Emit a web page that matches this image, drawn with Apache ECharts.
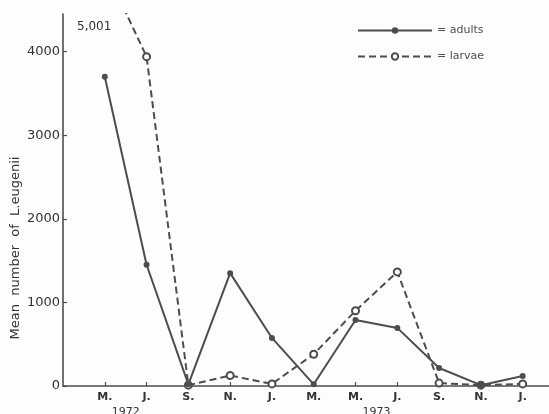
<!DOCTYPE html>
<html>
<head>
<meta charset="utf-8">
<script src="https://cdn.jsdelivr.net/npm/echarts@6/dist/echarts.min.js"></script>
<style>
html,body{margin:0;padding:0;background:#fdfdfd;}
#c{width:549px;height:414px;}
</style>
</head>
<body>
<div id="c"></div>
<script>
const months = ['M.', 'J.', 'S.', 'N.', 'J.', 'M.', 'M.', 'J.', 'S.', 'N.', 'J.'];
const years = ['1972', '1973'];
const yearPositions = [1.5, 7.5];
const adults = [3700, 1450, 20, 1350, 575, 20, 790, 695, 215, 10, 120];
const larvae = [5001, 3940, 10, 125, 25, 380, 900, 1365, 35, 10, 25];
const yTicks = [0, 1000, 2000, 3000, 4000];
const offScaleLabel = '5,001';

const ink = '#4d4d4d';
const font = 'DejaVu Sans';
const xIdx = months.map((m, i) => i + 1);

const chart = echarts.init(document.getElementById('c'), null, {renderer: 'canvas'});
chart.setOption({
  backgroundColor: '#fdfdfd',
  animation: false,
  grid: {left: 63, right: 0, top: 14, bottom: 28},
  legend: {
    orient: 'vertical',
    left: 352,
    top: 20,
    itemWidth: 74,
    itemHeight: 8,
    itemGap: 15,
    formatter: n => '= ' + n,
    textStyle: {color: ink, fontFamily: font, fontSize: 11},
    data: ['adults', 'larvae']
  },
  xAxis: {
    type: 'value',
    min: 0,
    max: 11.63,
    splitLine: {show: false},
    axisLine: {show: true, lineStyle: {color: ink, width: 1.6}},
    axisTick: {show: true, inside: true, length: 4, customValues: xIdx, lineStyle: {color: ink, width: 1.2}},
    axisLabel: {
      customValues: xIdx,
      margin: 6,
      color: '#333',
      fontFamily: font,
      fontSize: 11,
      fontWeight: 'bold',
      formatter: v => months[Math.round(v) - 1] || ''
    }
  },
  yAxis: {
    type: 'value',
    min: 0,
    max: 4450,
    splitLine: {show: false},
    axisLine: {show: true, lineStyle: {color: ink, width: 1.6}},
    axisTick: {show: true, inside: true, length: 4, customValues: yTicks, lineStyle: {color: ink, width: 1.2}},
    axisLabel: {customValues: yTicks, margin: 3, color: '#333', fontFamily: font, fontSize: 13, formatter: v => String(v)}
  },
  series: [
    {
      name: 'adults',
      type: 'line',
      data: adults.map((v, i) => [xIdx[i], v]),
      symbol: 'circle',
      symbolSize: 6,
      lineStyle: {color: ink, width: 2},
      itemStyle: {color: ink},
      z: 3
    },
    {
      name: 'larvae',
      type: 'line',
      data: larvae.map((v, i) => [xIdx[i], v]),
      symbol: 'emptyCircle',
      symbolSize: 7,
      lineStyle: {color: ink, width: 2, type: [7, 4]},
      itemStyle: {color: ink, borderColor: ink, borderWidth: 1.5},
      z: 2
    }
  ]
});

const graphics = [
  {
    type: 'text',
    left: 77,
    top: 21,
    style: {text: offScaleLabel, fill: '#333', font: '12px "DejaVu Sans"'}
  },
  {
    type: 'text',
    x: 16,
    y: 248,
    rotation: Math.PI / 2,
    style: {
      text: 'Mean  number  of  L.eugenii',
      fill: '#333',
      font: '13px "DejaVu Sans"',
      align: 'center',
      verticalAlign: 'middle'
    }
  }
];
years.forEach((y, i) => {
  const p = chart.convertToPixel({gridIndex: 0}, [yearPositions[i], 0]);
  graphics.push({
    type: 'text',
    x: p[0],
    y: 407,
    style: {text: y, fill: '#333', font: '11px "DejaVu Sans"', align: 'center', verticalAlign: 'top'}
  });
});
chart.setOption({graphic: graphics});
</script>
</body>
</html>
